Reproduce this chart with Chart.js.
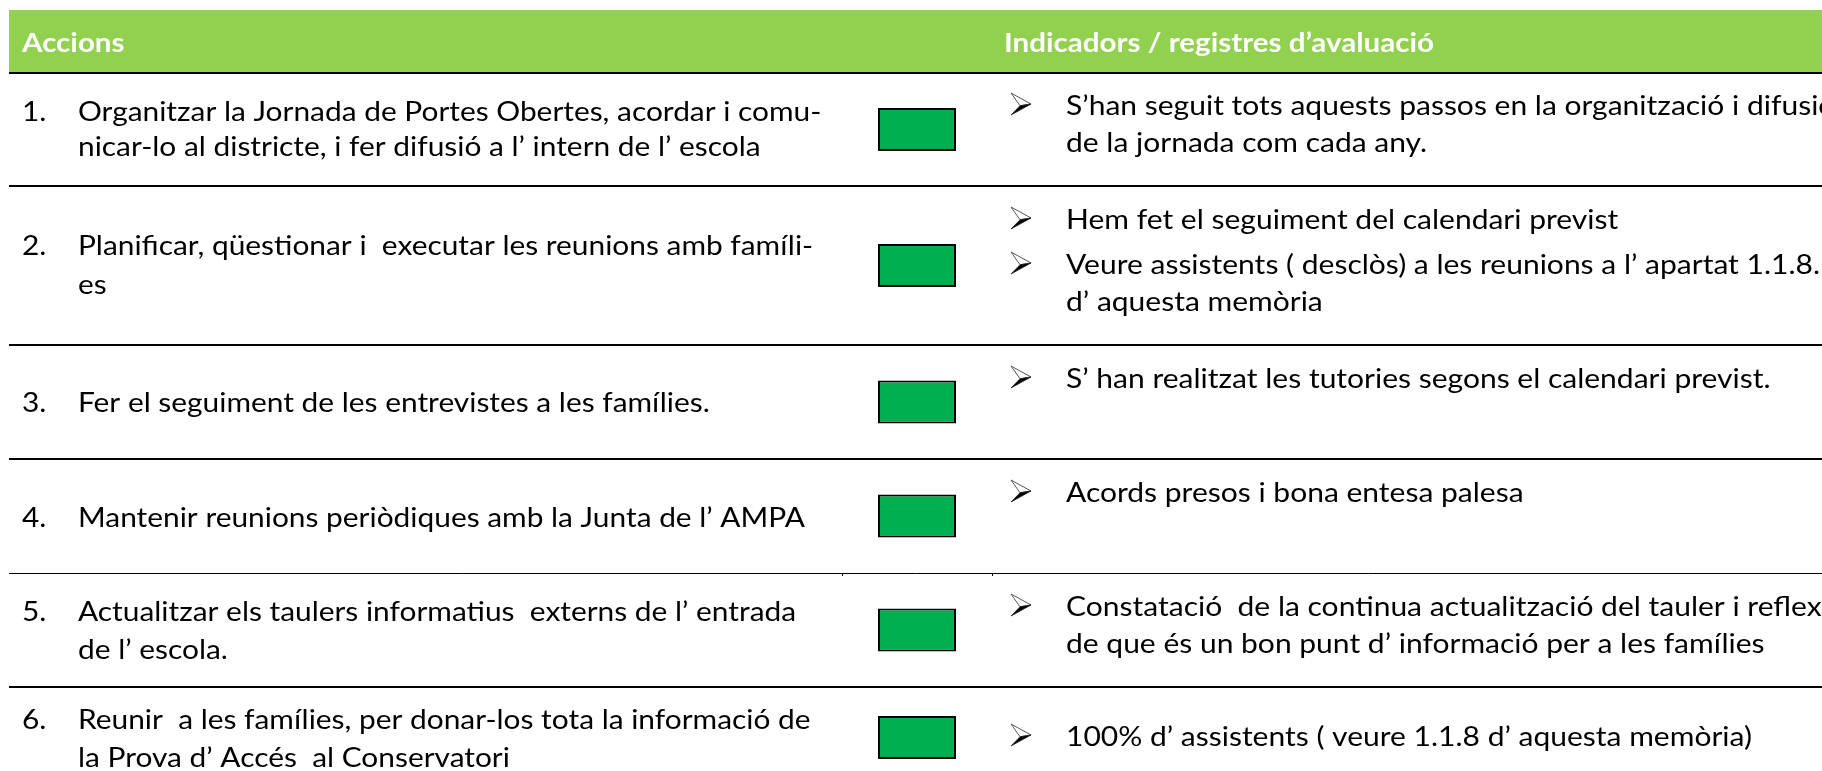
<!DOCTYPE html>
<html>
<head>
<meta charset="utf-8">
<script src="https://cdn.jsdelivr.net/npm/chart.js@4/dist/chart.umd.min.js"></script>
<style>
  html, body { margin: 0; padding: 0; background: #ffffff; }
  #wrap { position: relative; width: 1822px; height: 771px; }
</style>
</head>
<body>
<div id="wrap"><canvas id="c"></canvas></div>
<script>
// ---------------- DATA ----------------
const HEADERS = ['Accions', 'Indicadors / registres d’avaluació'];

const ACTION_NUMBERS = ['1.', '2.', '3.', '4.', '5.', '6.'];

const ACTIONS = [
  ['Organitzar la Jornada de Portes Obertes, acordar i comu-', 'nicar-lo al districte, i fer difusió a l’ intern de l’ escola'],
  ['Planificar, qüestionar i  executar les reunions amb famíli-', 'es'],
  ['Fer el seguiment de les entrevistes a les famílies.'],
  ['Mantenir reunions periòdiques amb la Junta de l’ AMPA'],
  ['Actualitzar els taulers informatius  externs de l’ entrada', 'de l’ escola.'],
  ['Reunir  a les famílies, per donar-los tota la informació de', 'la Prova d’ Accés  al Conservatori']
];

// each row: list of bullet items, each item a list of text lines
const INDICATORS = [
  [['S’han seguit tots aquests passos en la organització i difusió', 'de la jornada com cada any.']],
  [['Hem fet el seguiment del calendari previst'], ['Veure assistents ( desclòs) a les reunions a l’ apartat 1.1.8.', 'd’ aquesta memòria']],
  [['S’ han realitzat les tutories segons el calendari previst.']],
  [['Acords presos i bona entesa palesa']],
  [['Constatació  de la continua actualització del tauler i reflex', 'de que és un bon punt d’ informació per a les famílies']],
  [['100% d’ assistents ( veure 1.1.8 d’ aquesta memòria)']]
];

// status of each action: 1 = assolit (green)
const STATUS = [1, 1, 1, 1, 1, 1];
const STATUS_LABELS = { 1: 'Assolit' };

// ---------------- LAYOUT / STYLE ----------------
const LAYOUT = {
  width: 1822, height: 771,
  tableLeft: 9,
  headerTop: 10, headerBottom: 73, headerBaseline: 52,
  rowLines: [73, 186, 345, 459, 573, 687, 788],
  thinLines: [573],
  numX: 22, actionX: 78,
  headerRightX: 1004,
  bulletX: 1011, indicatorX: 1066,
  boxLeft: 878, boxWidth: 78, boxHeight: 43,
  leftBaselines: [[121, 156], [255, 294], [412], [527], [621, 659], [729, 767]],
  rightBaselines: [[115, 152], [229, 274, 311], [388], [502], [616, 653], [746]],
  fontSize: 27,
  leftCalib: { text: 'Mantenir reunions periòdiques amb la Junta de l’ AMPA', width: 727 },
  rightCalib: { text: 'Veure assistents ( desclòs) a les reunions a l’ apartat 1.1.8.', width: 754 },
  headCalib: { text: 'Indicadors / registres d’avaluació', width: 430 }
};
const COLORS = {
  header: '#92D050',
  headerText: '#ffffff',
  status: { 1: '#00B050' },
  text: '#000000',
  line: '#000000'
};
const FONT = 'Lato, "Open Sans", sans-serif';

// ---------------- HELPERS ----------------
function rowCenter(i) { return (LAYOUT.rowLines[i] + LAYOUT.rowLines[i + 1]) / 2; }

function drawScaledText(ctx, text, x, y, sx) {
  ctx.save();
  ctx.translate(x, y);
  ctx.scale(sx, 1);
  ctx.fillText(text, 0, 0);
  ctx.restore();
}

function drawBullet(ctx, x, baseline) {
  // "➢" style 3D arrowhead
  const w = 20, h = 22;
  const top = baseline - h;
  const A = [x, top], T = [x + w, top + h / 2], B = [x, top + h], N = [x + 9, top + h * 0.58];
  ctx.save();
  ctx.lineJoin = 'miter';
  ctx.beginPath();
  ctx.moveTo(A[0], A[1]); ctx.lineTo(T[0], T[1]); ctx.lineTo(N[0], N[1]); ctx.closePath();
  ctx.fillStyle = '#ffffff'; ctx.fill();
  ctx.strokeStyle = '#555555'; ctx.lineWidth = 1; ctx.stroke();
  ctx.beginPath();
  ctx.moveTo(N[0], N[1]); ctx.lineTo(T[0], T[1]); ctx.lineTo(B[0], B[1]); ctx.closePath();
  ctx.fillStyle = '#000000'; ctx.fill();
  ctx.strokeStyle = '#222222'; ctx.lineWidth = 0.8; ctx.stroke();
  ctx.restore();
}

const tablePlugin = {
  id: 'tablePlugin',
  beforeDraw(chart) {
    const ctx = chart.ctx;
    const y = chart.scales.y;
    const top = y.getPixelForValue(LAYOUT.headerTop);
    const bot = y.getPixelForValue(LAYOUT.headerBottom);
    ctx.save();
    ctx.fillStyle = COLORS.header;
    ctx.fillRect(chart.chartArea.left, top, chart.chartArea.right - chart.chartArea.left, bot - top);
    ctx.restore();
  },
  afterDraw(chart) {
    const ctx = chart.ctx;
    const ys = chart.scales.y;
    const fs = LAYOUT.fontSize;
    ctx.save();
    ctx.textBaseline = 'alphabetic';
    ctx.textAlign = 'left';

    // calibrate horizontal scale to reference widths
    ctx.font = `${fs}px ${FONT}`;
    const sxL = LAYOUT.leftCalib.width / ctx.measureText(LAYOUT.leftCalib.text).width;
    const sxR = LAYOUT.rightCalib.width / ctx.measureText(LAYOUT.rightCalib.text).width;
    ctx.font = `bold ${fs}px ${FONT}`;
    const sxH = LAYOUT.headCalib.width / ctx.measureText(LAYOUT.headCalib.text).width;

    // header
    ctx.fillStyle = COLORS.headerText;
    const hb = ys.getPixelForValue(LAYOUT.headerBaseline);
    drawScaledText(ctx, HEADERS[0], LAYOUT.numX, hb, sxH);
    drawScaledText(ctx, HEADERS[1], LAYOUT.headerRightX, hb, sxH);

    // body
    ctx.font = `${fs}px ${FONT}`;
    ctx.fillStyle = COLORS.text;
    ACTIONS.forEach((lines, i) => {
      const bl = LAYOUT.leftBaselines[i];
      drawScaledText(ctx, ACTION_NUMBERS[i], LAYOUT.numX, ys.getPixelForValue(bl[0]), sxL);
      lines.forEach((t, k) => drawScaledText(ctx, t, LAYOUT.actionX, ys.getPixelForValue(bl[k]), sxL));
    });
    INDICATORS.forEach((items, i) => {
      const bl = LAYOUT.rightBaselines[i];
      let k = 0;
      items.forEach(item => {
        drawBullet(ctx, LAYOUT.bulletX, ys.getPixelForValue(bl[k]));
        ctx.fillStyle = COLORS.text;
        item.forEach(t => {
          drawScaledText(ctx, t, LAYOUT.indicatorX, ys.getPixelForValue(bl[k]), sxR);
          k++;
        });
      });
    });

    // small tick marks on the thin rule
    ctx.fillStyle = COLORS.line;
    LAYOUT.thinLines.forEach(v => {
      const p = Math.round(ys.getPixelForValue(v));
      ctx.fillRect(842, p, 1, 3);
      ctx.fillRect(992, p, 1, 3);
    });
    ctx.restore();
  }
};

// ---------------- CHART ----------------
function build() {
  const plotW = LAYOUT.width - LAYOUT.tableLeft;
  const xMin = -(LAYOUT.boxLeft - LAYOUT.tableLeft) / LAYOUT.boxWidth;
  const xMax = xMin + plotW / LAYOUT.boxWidth;

  new Chart(document.getElementById('c'), {
    type: 'bar',
    data: {
      datasets: [{
        label: 'Estat',
        data: STATUS.map((s, i) => ({ x: s, y: rowCenter(i) })),
        backgroundColor: STATUS.map(s => COLORS.status[s]),
        borderColor: '#000000',
        borderWidth: 2,
        borderSkipped: false,
        barThickness: LAYOUT.boxHeight,
        inflateAmount: 0
      }]
    },
    options: {
      indexAxis: 'y',
      responsive: true,
      maintainAspectRatio: false,
      animation: false,
      events: [],
      layout: { autoPadding: false, padding: { left: LAYOUT.tableLeft, right: 0, top: 0, bottom: 0 } },
      plugins: { legend: { display: false }, tooltip: { enabled: false }, title: { display: false } },
      scales: {
        x: {
          type: 'linear', min: xMin, max: xMax, display: false, offset: false
        },
        y: {
          type: 'linear', reverse: true, min: 0, max: LAYOUT.height,
          offset: false,
          display: true,
          afterFit(s) { s.width = 0; },
          afterBuildTicks(s) { s.ticks = LAYOUT.rowLines.filter(v => v <= LAYOUT.height).map(v => ({ value: v })); },
          ticks: { display: false },
          border: { display: false },
          grid: {
            offset: false,
            drawTicks: false,
            color: COLORS.line,
            lineWidth: c => (c.tick && LAYOUT.thinLines.includes(c.tick.value)) ? 1 : 2
          }
        }
      }
    },
    plugins: [tablePlugin]
  });
}

Promise.all([
  document.fonts.load(`${LAYOUT.fontSize}px Lato`),
  document.fonts.load(`bold ${LAYOUT.fontSize}px Lato`)
]).catch(() => {}).then(build);
</script>
</body>
</html>
